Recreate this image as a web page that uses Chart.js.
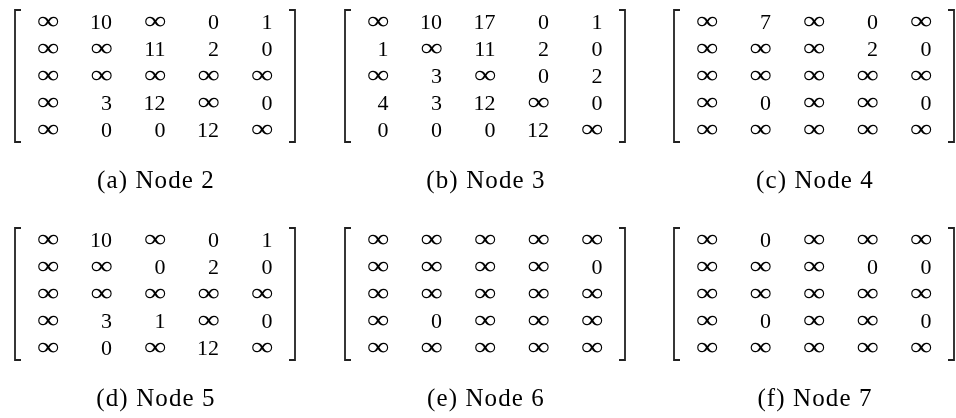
<!DOCTYPE html>
<html>
<head>
<meta charset="utf-8">
<script src="https://cdn.jsdelivr.net/npm/chart.js@4/dist/chart.umd.min.js"></script>
<style>
  html, body { margin: 0; padding: 0; background: #fff; overflow: hidden; width: 956px; height: 418px; }
  .cell { position: absolute; width: 310px; height: 200px; }
</style>
</head>
<body>
<div id="wrap"></div>
<script>
const INF = Infinity;
// Captions of the six panels
const captions = ['(a) Node 2', '(b) Node 3', '(c) Node 4', '(d) Node 5', '(e) Node 6', '(f) Node 7'];
// Matrix values (rows), Infinity drawn as ∞
const node2 = [
  [INF, 10, INF, 0, 1],
  [INF, INF, 11, 2, 0],
  [INF, INF, INF, INF, INF],
  [INF, 3, 12, INF, 0],
  [INF, 0, 0, 12, INF]
];
const node3 = [
  [INF, 10, 17, 0, 1],
  [1, INF, 11, 2, 0],
  [INF, 3, INF, 0, 2],
  [4, 3, 12, INF, 0],
  [0, 0, 0, 12, INF]
];
const node4 = [
  [INF, 7, INF, 0, INF],
  [INF, INF, INF, 2, 0],
  [INF, INF, INF, INF, INF],
  [INF, 0, INF, INF, 0],
  [INF, INF, INF, INF, INF]
];
const node5 = [
  [INF, 10, INF, 0, 1],
  [INF, INF, 0, 2, 0],
  [INF, INF, INF, INF, INF],
  [INF, 3, 1, INF, 0],
  [INF, 0, INF, 12, INF]
];
const node6 = [
  [INF, INF, INF, INF, INF],
  [INF, INF, INF, INF, 0],
  [INF, INF, INF, INF, INF],
  [INF, 0, INF, INF, INF],
  [INF, INF, INF, INF, INF]
];
const node7 = [
  [INF, 0, INF, INF, INF],
  [INF, INF, INF, 0, 0],
  [INF, INF, INF, INF, INF],
  [INF, 0, INF, INF, 0],
  [INF, INF, INF, INF, INF]
];
const matrices = [node2, node3, node4, node5, node6, node7];

const FONT = '22px "Liberation Serif", "Times New Roman", serif';
const CAPFONT = '25px "Liberation Serif", "Times New Roman", serif';

function drawInfinity(ctx, xRight, yCenter) {
  ctx.save();
  ctx.font = FONT;
  ctx.textAlign = 'left';
  ctx.textBaseline = 'alphabetic';
  const m = ctx.measureText('\u221E');
  const bw = m.actualBoundingBoxLeft + m.actualBoundingBoxRight;
  const bh = m.actualBoundingBoxAscent + m.actualBoundingBoxDescent;
  const tw = 21.5, th = 10.5;
  ctx.translate(xRight - tw, yCenter - th / 2);
  ctx.scale(tw / bw, th / bh);
  ctx.fillText('\u221E', m.actualBoundingBoxLeft, m.actualBoundingBoxAscent);
  ctx.restore();
}

const matrixPlugin = {
  id: 'matrixPlugin',
  afterDatasetsDraw(chart, args, opts) {
    const ctx = chart.ctx;
    const { left, right, top, bottom } = chart.chartArea;
    ctx.save();
    // brackets
    ctx.strokeStyle = '#222';
    ctx.lineWidth = 1.8;
    ctx.beginPath();
    ctx.moveTo(left + 7, top + 1); ctx.lineTo(left + 1, top + 1);
    ctx.lineTo(left + 1, bottom - 1); ctx.lineTo(left + 7, bottom - 1);
    ctx.moveTo(right - 7, top + 1); ctx.lineTo(right - 1, top + 1);
    ctx.lineTo(right - 1, bottom - 1); ctx.lineTo(right - 7, bottom - 1);
    ctx.stroke();
    // entries
    ctx.fillStyle = '#000';
    const ds = chart.data.datasets[0];
    const meta = chart.getDatasetMeta(0);
    meta.data.forEach((pt, i) => {
      const v = ds.data[i].v;
      if (v === Infinity) {
        drawInfinity(ctx, pt.x, pt.y);
      } else {
        ctx.font = FONT;
        ctx.textAlign = 'right';
        ctx.textBaseline = 'alphabetic';
        ctx.fillText(String(v), pt.x, pt.y + 7.4);
      }
    });
    // caption
    ctx.font = CAPFONT;
    ctx.textAlign = 'center';
    ctx.textBaseline = 'alphabetic';
    try { ctx.letterSpacing = '1.1px'; } catch (e) {}
    ctx.fillText(opts.caption, (left + right) / 2 + 1, bottom + 45);
    ctx.restore();
  }
};

const lefts = [0, 330, 659];
const tops = [0, 218];
const wrap = document.getElementById('wrap');

matrices.forEach((mat, k) => {
  const div = document.createElement('div');
  div.className = 'cell';
  div.style.left = lefts[k % 3] + 'px';
  div.style.top = tops[Math.floor(k / 3)] + 'px';
  const canvas = document.createElement('canvas');
  canvas.width = 310; canvas.height = 200;
  div.appendChild(canvas);
  wrap.appendChild(div);

  const points = [];
  mat.forEach((row, r) => row.forEach((v, c) => points.push({ x: c + 1, y: r + 1, v: v })));

  new Chart(canvas, {
    type: 'scatter',
    data: { datasets: [{ data: points, pointRadius: 0, pointHoverRadius: 0 }] },
    options: {
      responsive: false,
      devicePixelRatio: 1,
      animation: false,
      events: [],
      layout: { padding: { left: 14, right: 14, top: 9, bottom: 57 } },
      scales: {
        x: { type: 'linear', min: 0.166, max: 5.44, display: false },
        y: { type: 'linear', min: 0.54, max: 5.5, reverse: true, display: false }
      },
      plugins: {
        legend: { display: false },
        tooltip: { enabled: false },
        matrixPlugin: { caption: captions[k] }
      }
    },
    plugins: [matrixPlugin]
  });
});
</script>
</body>
</html>
